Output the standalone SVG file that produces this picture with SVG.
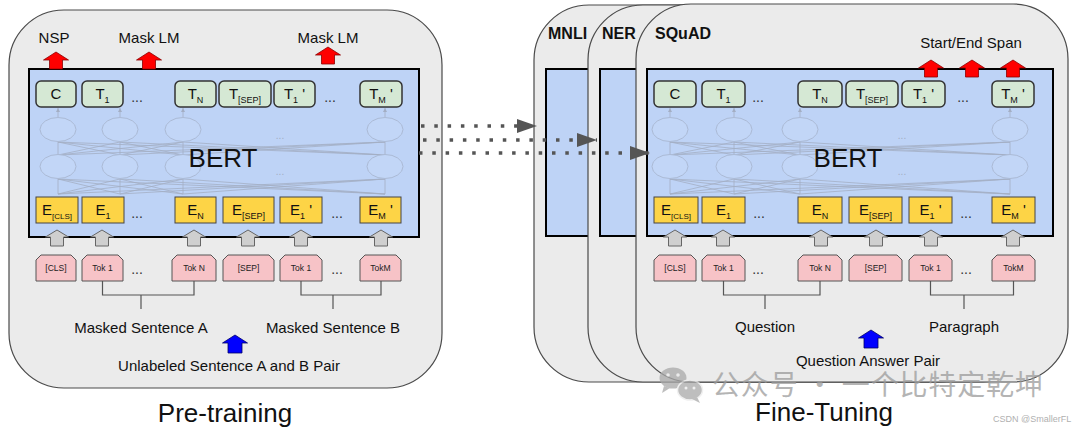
<svg xmlns="http://www.w3.org/2000/svg" xmlns:xlink="http://www.w3.org/1999/xlink" width="1080" height="429" viewBox="0 0 1080 429">
<style>
  text { font-family: "Liberation Sans", Arial, sans-serif; fill: #111; }
  .panel { fill: #ebebeb; stroke: #4a4a4a; stroke-width: 1.2; }
  .bert { fill: #bed3f6; stroke: #000; stroke-width: 2; }
  .tbox { fill: #d5e8d4; stroke: #333; stroke-width: 1.5; }
  .ebox { fill: #fdd446; stroke: #444; stroke-width: 1; }
  .tok { fill: #f7c3c7; stroke: #555; stroke-width: 1; }
  .net { fill: none; stroke: #a3aec4; stroke-width: 0.8; }
  .ell { fill: #c2d6f7; stroke: #abbad5; stroke-width: 1; }
  .lbl { font-size: 15px; text-anchor: middle; }
  .sub { font-size: 9px; }
  .subs { font-size: 8px; }
  .tk { font-size: 8.5px; text-anchor: middle; fill: #222; }
  .dots { font-size: 14px; text-anchor: middle; fill: #333; }
  .fdots { font-size: 10px; text-anchor: middle; fill: #a3aec4; }
  .big { font-size: 26px; text-anchor: middle; }
  .cap { font-size: 15px; text-anchor: middle; }
  .task { font-size: 16px; font-weight: bold; }
  .brk { fill: none; stroke: #555; stroke-width: 1.2; }
  .dotted { fill: none; stroke: #555; stroke-width: 3.5; stroke-dasharray: 3.5 9.8; }
</style>
<defs>
  <path id="redArrow" d="M0,0 L12.5,8 L6.5,8 L6.5,17 L-6.5,17 L-6.5,8 L-12.5,8 Z" fill="#ff0000" stroke="#8a0000" stroke-width="0.8"/>
  <path id="grayArrow" d="M0,0 L11.5,7 L6.5,7 L6.5,16 L-6.5,16 L-6.5,7 L-11.5,7 Z" fill="#cfcfcf" stroke="#666" stroke-width="1"/>
  <path id="blueArrow" d="M0,0 L12.5,8 L7,8 L7,18 L-7,18 L-7,8 L-12.5,8 Z" fill="#0000ff" stroke="#000066" stroke-width="0.8"/>
  <marker id="head" markerUnits="userSpaceOnUse" markerWidth="20" markerHeight="14" refX="20" refY="7" orient="auto">
    <path d="M0,0 L20,7 L0,14 Z" fill="#555"/>
  </marker>
  <marker id="tiny" markerUnits="userSpaceOnUse" markerWidth="4" markerHeight="4" refX="4" refY="2" orient="auto">
    <path d="M0,0 L4,2 L0,4 Z" fill="#a3aec4"/>
  </marker>
</defs>

<!-- ===================== PRE-TRAINING ===================== -->
<g id="pretrain-panel">
  <rect class="panel" x="9" y="10" width="433" height="378" rx="55" ry="55"/>
</g>

<g id="pretrain-bert">
  <rect class="bert" x="29" y="69" width="390" height="168"/>
  <path class="net" d="M58,155L58,142M58,155L120,142M58,155L183,142M58,155L385,142M120,155L58,142M120,155L120,142M120,155L183,142M120,155L385,142M183,155L58,142M183,155L120,142M183,155L183,142M183,155L385,142M385,155L58,142M385,155L120,142M385,155L183,142M385,155L385,142"/>
  <path class="net" d="M58,194L58,179M58,194L120,179M58,194L183,179M58,194L385,179M120,194L58,179M120,194L120,179M120,194L183,179M120,194L385,179M183,194L58,179M183,194L120,179M183,194L183,179M183,194L385,179M385,194L58,179M385,194L120,179M385,194L183,179M385,194L385,179"/>
  <path class="net" d="M58,117V108" marker-end="url(#tiny)"/>
  <path class="net" d="M120,117V108" marker-end="url(#tiny)"/>
  <path class="net" d="M183,117V108" marker-end="url(#tiny)"/>
  <path class="net" d="M385,117V108" marker-end="url(#tiny)"/>
  <ellipse class="ell" cx="58" cy="129.5" rx="18" ry="12"/>
  <ellipse class="ell" cx="120" cy="129.5" rx="18" ry="12"/>
  <ellipse class="ell" cx="183" cy="129.5" rx="18" ry="12"/>
  <ellipse class="ell" cx="385" cy="129.5" rx="18" ry="12"/>
  <ellipse class="ell" cx="58" cy="166.5" rx="18" ry="12"/>
  <ellipse class="ell" cx="120" cy="166.5" rx="18" ry="12"/>
  <ellipse class="ell" cx="183" cy="166.5" rx="18" ry="12"/>
  <ellipse class="ell" cx="385" cy="166.5" rx="18" ry="12"/>
  <text class="fdots" x="280" y="139">...</text>
  <text class="fdots" x="280" y="175">...</text>
  <text class="big" x="223" y="167">BERT</text>
</g>

<g id="pt-T-C"><rect class="tbox" x="36" y="81" width="40" height="26" rx="5"/><text class="lbl" x="56" y="99">C</text></g>
<g id="pt-T-1"><rect class="tbox" x="82" y="81" width="41" height="26" rx="5"/><text class="lbl" x="102.5" y="99">T<tspan class="sub" dy="4">1</tspan></text></g>
<g id="pt-T-N"><rect class="tbox" x="175" y="81" width="41" height="26" rx="5"/><text class="lbl" x="195.5" y="99">T<tspan class="sub" dy="4">N</tspan></text></g>
<g id="pt-T-SEP"><rect class="tbox" x="219" y="81" width="52" height="26" rx="5"/><text class="lbl" x="245" y="99">T<tspan class="sub" dy="4">[SEP]</tspan></text></g>
<g id="pt-T-1p"><rect class="tbox" x="274" y="81" width="41" height="26" rx="5"/><text class="lbl" x="294.5" y="99">T<tspan class="sub" dy="4">1</tspan><tspan dy="-4"> '</tspan></text></g>
<g id="pt-T-Mp"><rect class="tbox" x="360" y="81" width="42" height="26" rx="5"/><text class="lbl" x="381" y="99">T<tspan class="sub" dy="4">M</tspan><tspan dy="-4"> '</tspan></text></g>
<text class="dots" x="137" y="102">...</text>
<text class="dots" x="330" y="102">...</text>

<g id="pt-E-CLS"><rect class="ebox" x="36" y="197" width="42" height="26"/><text class="lbl" x="57" y="215">E<tspan class="subs" dy="4">[CLS]</tspan></text></g>
<g id="pt-E-1"><rect class="ebox" x="82" y="197" width="42" height="26"/><text class="lbl" x="103" y="215">E<tspan class="sub" dy="4">1</tspan></text></g>
<g id="pt-E-N"><rect class="ebox" x="175" y="197" width="41" height="26"/><text class="lbl" x="195.5" y="215">E<tspan class="sub" dy="4">N</tspan></text></g>
<g id="pt-E-SEP"><rect class="ebox" x="223" y="197" width="51" height="26"/><text class="lbl" x="248.5" y="215">E<tspan class="sub" dy="4">[SEP]</tspan></text></g>
<g id="pt-E-1p"><rect class="ebox" x="280" y="197" width="42" height="26"/><text class="lbl" x="301" y="215">E<tspan class="sub" dy="4">1</tspan><tspan dy="-4"> '</tspan></text></g>
<g id="pt-E-Mp"><rect class="ebox" x="360" y="197" width="41" height="26"/><text class="lbl" x="380.5" y="215">E<tspan class="sub" dy="4">M</tspan><tspan dy="-4"> '</tspan></text></g>
<text class="dots" x="137" y="218">...</text>
<text class="dots" x="337" y="218">...</text>

<g id="pt-tok-CLS"><path class="tok" d="M36,281V260L41,255H71L76,260V281Z"/><text class="tk" x="56" y="271">[CLS]</text></g>
<g id="pt-tok-1"><path class="tok" d="M82,281V260L87,255H118L123,260V281Z"/><text class="tk" x="102.5" y="271">Tok 1</text></g>
<g id="pt-tok-N"><path class="tok" d="M172,281V260L177,255H211L216,260V281Z"/><text class="tk" x="194" y="271">Tok N</text></g>
<g id="pt-tok-SEP"><path class="tok" d="M223,281V260L228,255H269L274,260V281Z"/><text class="tk" x="248.5" y="271">[SEP]</text></g>
<g id="pt-tok-1p"><path class="tok" d="M280,281V260L285,255H317L322,260V281Z"/><text class="tk" x="301" y="271">Tok 1</text></g>
<g id="pt-tok-M"><path class="tok" d="M360,281V260L365,255H396L401,260V281Z"/><text class="tk" x="380.5" y="271">TokM</text></g>
<text class="dots" x="137" y="274">...</text>
<text class="dots" x="337" y="274">...</text>

<g id="pt-arrows">
  <use xlink:href="#grayArrow" x="57" y="230"/>
  <use xlink:href="#grayArrow" x="102" y="230"/>
  <use xlink:href="#grayArrow" x="194" y="230"/>
  <use xlink:href="#grayArrow" x="248" y="230"/>
  <use xlink:href="#grayArrow" x="301" y="230"/>
  <use xlink:href="#grayArrow" x="381" y="230"/>
  <use xlink:href="#redArrow" x="56" y="52"/>
  <use xlink:href="#redArrow" x="149" y="52"/>
  <use xlink:href="#redArrow" x="328" y="47"/>
  <use xlink:href="#blueArrow" x="235" y="335"/>
</g>

<g id="pt-labels">
  <text class="cap" x="54" y="43">NSP</text>
  <text class="cap" x="149" y="43">Mask LM</text>
  <text class="cap" x="328" y="43">Mask LM</text>
  <path class="brk" d="M102.5,281V295H194V281M141,295V309"/>
  <path class="brk" d="M301,281V295H381V281M333,295V309"/>
  <text class="cap" x="141" y="333">Masked Sentence A</text>
  <text class="cap" x="333" y="333">Masked Sentence B</text>
  <text class="cap" x="229" y="371">Unlabeled Sentence A and B Pair</text>
  <text class="big" x="225" y="422">Pre-training</text>
</g>

<!-- ===================== FINE-TUNING ===================== -->
<g id="mnli-panel">
  <rect class="panel" x="534" y="5" width="460" height="377" rx="55" ry="55"/>
  <rect class="bert" x="546" y="69" width="420" height="167"/>
  <text class="task" x="548" y="39">MNLI</text>
</g>
<g id="ner-panel">
  <rect class="panel" x="588" y="5" width="450" height="377" rx="55" ry="55"/>
  <rect class="bert" x="600" y="69" width="420" height="167"/>
  <text class="task" x="602" y="39">NER</text>
</g>
<g id="squad-panel">
  <rect class="panel" x="636" y="4" width="432" height="378" rx="55" ry="55"/>
  <text class="task" x="655" y="39">SQuAD</text>
</g>

<g id="ft-bert">
  <rect class="bert" x="647" y="69" width="406" height="167"/>
  <path class="net" d="M670,155L670,142M670,155L734,142M670,155L800,142M670,155L1010,142M734,155L670,142M734,155L734,142M734,155L800,142M734,155L1010,142M800,155L670,142M800,155L734,142M800,155L800,142M800,155L1010,142M1010,155L670,142M1010,155L734,142M1010,155L800,142M1010,155L1010,142"/>
  <path class="net" d="M670,194L670,179M670,194L734,179M670,194L800,179M670,194L1010,179M734,194L670,179M734,194L734,179M734,194L800,179M734,194L1010,179M800,194L670,179M800,194L734,179M800,194L800,179M800,194L1010,179M1010,194L670,179M1010,194L734,179M1010,194L800,179M1010,194L1010,179"/>
  <path class="net" d="M670,117V108" marker-end="url(#tiny)"/>
  <path class="net" d="M734,117V108" marker-end="url(#tiny)"/>
  <path class="net" d="M800,117V108" marker-end="url(#tiny)"/>
  <path class="net" d="M1010,117V108" marker-end="url(#tiny)"/>
  <ellipse class="ell" cx="670" cy="129.5" rx="18" ry="12"/>
  <ellipse class="ell" cx="734" cy="129.5" rx="18" ry="12"/>
  <ellipse class="ell" cx="800" cy="129.5" rx="18" ry="12"/>
  <ellipse class="ell" cx="1010" cy="129.5" rx="18" ry="12"/>
  <ellipse class="ell" cx="670" cy="166.5" rx="18" ry="12"/>
  <ellipse class="ell" cx="734" cy="166.5" rx="18" ry="12"/>
  <ellipse class="ell" cx="800" cy="166.5" rx="18" ry="12"/>
  <ellipse class="ell" cx="1010" cy="166.5" rx="18" ry="12"/>
  <text class="fdots" x="902" y="139">...</text>
  <text class="fdots" x="902" y="175">...</text>
  <text class="big" x="848" y="167">BERT</text>
</g>

<g id="ft-T-C"><rect class="tbox" x="654" y="81" width="42" height="26" rx="5"/><text class="lbl" x="675" y="99">C</text></g>
<g id="ft-T-1"><rect class="tbox" x="702" y="81" width="43" height="26" rx="5"/><text class="lbl" x="723.5" y="99">T<tspan class="sub" dy="4">1</tspan></text></g>
<g id="ft-T-N"><rect class="tbox" x="798" y="81" width="44" height="26" rx="5"/><text class="lbl" x="820" y="99">T<tspan class="sub" dy="4">N</tspan></text></g>
<g id="ft-T-SEP"><rect class="tbox" x="846" y="81" width="52" height="26" rx="5"/><text class="lbl" x="872" y="99">T<tspan class="sub" dy="4">[SEP]</tspan></text></g>
<g id="ft-T-1p"><rect class="tbox" x="902" y="81" width="43" height="26" rx="5"/><text class="lbl" x="923.5" y="99">T<tspan class="sub" dy="4">1</tspan><tspan dy="-4"> '</tspan></text></g>
<g id="ft-T-Mp"><rect class="tbox" x="992" y="81" width="42" height="26" rx="5"/><text class="lbl" x="1013" y="99">T<tspan class="sub" dy="4">M</tspan><tspan dy="-4"> '</tspan></text></g>
<text class="dots" x="758" y="102">...</text>
<text class="dots" x="963" y="102">...</text>

<g id="ft-E-CLS"><rect class="ebox" x="654" y="197" width="44" height="26"/><text class="lbl" x="676" y="215">E<tspan class="subs" dy="4">[CLS]</tspan></text></g>
<g id="ft-E-1"><rect class="ebox" x="702" y="197" width="43" height="26"/><text class="lbl" x="723.5" y="215">E<tspan class="sub" dy="4">1</tspan></text></g>
<g id="ft-E-N"><rect class="ebox" x="798" y="197" width="44" height="26"/><text class="lbl" x="820" y="215">E<tspan class="sub" dy="4">N</tspan></text></g>
<g id="ft-E-SEP"><rect class="ebox" x="849" y="197" width="53" height="26"/><text class="lbl" x="875.5" y="215">E<tspan class="sub" dy="4">[SEP]</tspan></text></g>
<g id="ft-E-1p"><rect class="ebox" x="909" y="197" width="43" height="26"/><text class="lbl" x="930.5" y="215">E<tspan class="sub" dy="4">1</tspan><tspan dy="-4"> '</tspan></text></g>
<g id="ft-E-Mp"><rect class="ebox" x="992" y="197" width="43" height="26"/><text class="lbl" x="1013.5" y="215">E<tspan class="sub" dy="4">M</tspan><tspan dy="-4"> '</tspan></text></g>
<text class="dots" x="759" y="218">...</text>
<text class="dots" x="966" y="218">...</text>

<g id="ft-tok-CLS"><path class="tok" d="M654,281V260L659,255H691L696,260V281Z"/><text class="tk" x="675" y="271">[CLS]</text></g>
<g id="ft-tok-1"><path class="tok" d="M702,281V260L707,255H740L745,260V281Z"/><text class="tk" x="723.5" y="271">Tok 1</text></g>
<g id="ft-tok-N"><path class="tok" d="M798,281V260L803,255H837L842,260V281Z"/><text class="tk" x="820" y="271">Tok N</text></g>
<g id="ft-tok-SEP"><path class="tok" d="M849,281V260L854,255H897L902,260V281Z"/><text class="tk" x="875.5" y="271">[SEP]</text></g>
<g id="ft-tok-1p"><path class="tok" d="M909,281V260L914,255H947L952,260V281Z"/><text class="tk" x="930.5" y="271">Tok 1</text></g>
<g id="ft-tok-M"><path class="tok" d="M992,281V260L997,255H1030L1035,260V281Z"/><text class="tk" x="1013.5" y="271">TokM</text></g>
<text class="dots" x="758" y="274">...</text>
<text class="dots" x="966" y="274">...</text>

<g id="ft-arrows">
  <use xlink:href="#grayArrow" x="675" y="230"/>
  <use xlink:href="#grayArrow" x="723" y="230"/>
  <use xlink:href="#grayArrow" x="821" y="230"/>
  <use xlink:href="#grayArrow" x="876" y="230"/>
  <use xlink:href="#grayArrow" x="931" y="230"/>
  <use xlink:href="#grayArrow" x="1013" y="230"/>
  <use xlink:href="#redArrow" x="931" y="60"/>
  <use xlink:href="#redArrow" x="972" y="60"/>
  <use xlink:href="#redArrow" x="1013" y="60"/>
  <use xlink:href="#blueArrow" x="871" y="330"/>
</g>

<g id="ft-labels">
  <text class="cap" x="971" y="48">Start/End Span</text>
  <path class="brk" d="M723.5,281V295H820V281M765,295V309"/>
  <path class="brk" d="M930.5,281V295H1013.5V281M964,295V309"/>
  <text class="cap" x="765" y="332">Question</text>
  <text class="cap" x="964" y="332">Paragraph</text>
  <text class="cap" x="868" y="366">Question Answer Pair</text>
  <text class="big" x="824" y="421">Fine-Tuning</text>
</g>

<!-- ===================== CONNECTORS ===================== -->
<g id="connectors">
  <path class="dotted" d="M421,126H537" marker-end="url(#head)"/>
  <path class="dotted" d="M423,140H597" marker-end="url(#head)"/>
  <path class="dotted" d="M419,153H650" marker-end="url(#head)"/>
</g>

<!-- ===================== WATERMARK ===================== -->
<g id="watermark" opacity="0.75">
  <ellipse cx="673" cy="378" rx="13.5" ry="10.5" fill="#a9a9a9"/>
  <path d="M664,386 L662,393 L670,388 Z" fill="#a9a9a9"/>
  <ellipse cx="690" cy="390" rx="12.5" ry="10" fill="#a9a9a9" stroke="#ebebeb" stroke-width="1.5"/>
  <path d="M697,397 L700,403 L692,399 Z" fill="#a9a9a9"/>
  <circle cx="668" cy="375" r="1.8" fill="#ebebeb"/>
  <circle cx="678" cy="375" r="1.8" fill="#ebebeb"/>
  <circle cx="686" cy="388" r="1.5" fill="#ebebeb"/>
  <circle cx="694" cy="388" r="1.5" fill="#ebebeb"/>
  <text x="712" y="395" font-size="28" textLength="331" lengthAdjust="spacing" style="font-family:'Noto Sans CJK SC','Liberation Sans',sans-serif;fill:#9c9c9c">公众号 · 一个比特定乾坤</text>
</g>
<text x="993" y="422" style="font-size:9px;fill:#b0b0b0">CSDN @SmallerFL</text>
</svg>
